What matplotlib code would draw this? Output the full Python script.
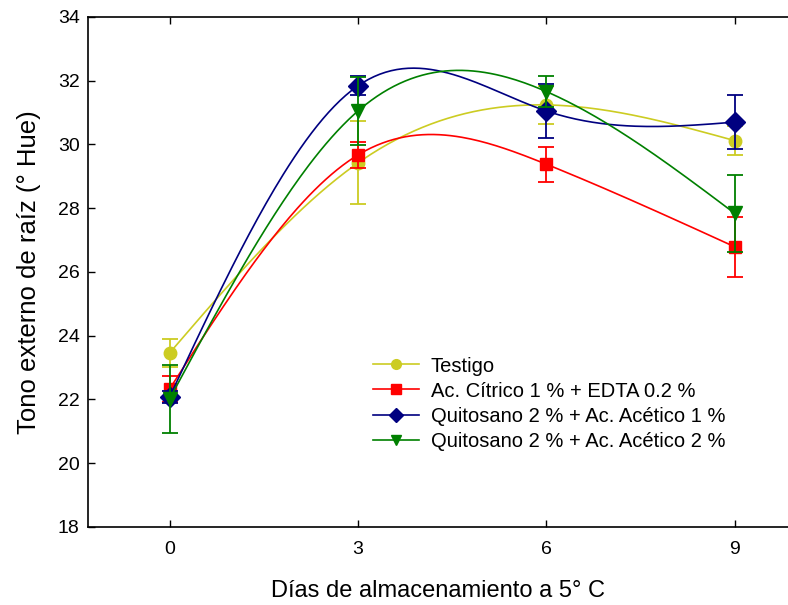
import numpy as np
import matplotlib.pyplot as plt

plt.rcParams['font.family'] = ['Liberation Sans', 'DejaVu Sans']

dias = [0, 3, 6, 9]
series_names = ['Testigo',
                'Ac. Cítrico 1 % + EDTA 0.2 %',
                'Quitosano 2 % + Ac. Acético 1 %',
                'Quitosano 2 % + Ac. Acético 2 %']
testigo = [23.46, 29.42, 31.24, 30.12]
testigo_err = [0.43, 1.3, 0.6, 0.45]
citrico = [22.33, 29.67, 29.38, 26.79]
citrico_err = [0.4, 0.4, 0.55, 0.94]
quito1 = [22.08, 31.84, 31.05, 30.70]
quito1_err = [0.2, 0.3, 0.85, 0.85]
quito2 = [22.02, 31.05, 31.66, 27.84]
quito2_err = [1.06, 1.07, 0.5, 1.2]

colors = ['#cccc22', '#ff0000', '#000080', '#008000']
markers = ['o', 's', 'D', 'v']
msizes = [9, 9, 10.5, 10]


def natural_spline(x, y, n=200):
    """Natural cubic spline through the points, to draw a smooth curve."""
    x = np.asarray(x, float)
    y = np.asarray(y, float)
    k = len(x)
    h = np.diff(x)
    A = np.zeros((k, k))
    b = np.zeros(k)
    A[0, 0] = A[-1, -1] = 1
    for i in range(1, k - 1):
        A[i, i - 1] = h[i - 1]
        A[i, i] = 2 * (h[i - 1] + h[i])
        A[i, i + 1] = h[i]
        b[i] = 6 * ((y[i + 1] - y[i]) / h[i] - (y[i] - y[i - 1]) / h[i - 1])
    M = np.linalg.solve(A, b)
    xs = np.linspace(x[0], x[-1], n)
    ys = np.empty_like(xs)
    for j, t in enumerate(xs):
        i = min(np.searchsorted(x, t, side='right') - 1, k - 2)
        a, c = x[i], x[i + 1]
        hi = c - a
        ys[j] = (M[i] * (c - t) ** 3 / (6 * hi) + M[i + 1] * (t - a) ** 3 / (6 * hi)
                 + (y[i] / hi - M[i] * hi / 6) * (c - t)
                 + (y[i + 1] / hi - M[i + 1] * hi / 6) * (t - a))
    return xs, ys


fig = plt.figure(figsize=(7.88, 6.05), dpi=100)
ax = fig.add_axes([0.1117, 0.129, 0.8883, 0.843])

data = [(testigo, testigo_err), (citrico, citrico_err),
        (quito1, quito1_err), (quito2, quito2_err)]
for (vals, errs), name, c, m, ms in zip(data, series_names, colors, markers, msizes):
    xs, ys = natural_spline(dias, vals)
    ax.plot(xs, ys, color=c, lw=1.2)
    ax.errorbar(dias, vals, yerr=errs, fmt='none', ecolor=c, elinewidth=1.3,
                capsize=5.5, capthick=1.3)
    ax.plot(dias, vals, linestyle='none', marker=m, color=c, markersize=ms)
    ax.plot([], [], color=c, marker=m, markersize=7, lw=1.2, label=name)

ax.set_xlim(-1.3, 9.85)
ax.set_ylim(18, 34)
ax.set_xticks(dias)
ax.set_yticks(range(18, 35, 2))
ax.tick_params(direction='in', length=5, width=1, labelsize=14, top=True)
ax.tick_params(axis='x', pad=10)
ax.tick_params(axis='y', pad=6)
ax.spines['right'].set_visible(False)
for s in ['left', 'bottom', 'top']:
    ax.spines[s].set_linewidth(1.2)

ax.set_xlabel('Días de almacenamiento a 5° C', fontsize=17, labelpad=16)
ax.set_ylabel('Tono externo de raíz (° Hue)', fontsize=18.5, labelpad=12)

ax.legend(loc='upper left', bbox_to_anchor=(0.395, 0.35), frameon=False,
          fontsize=14.5, handlelength=2.3, handletextpad=0.6,
          labelspacing=0.3, borderaxespad=0)

fig.savefig('out.png', dpi=100)
